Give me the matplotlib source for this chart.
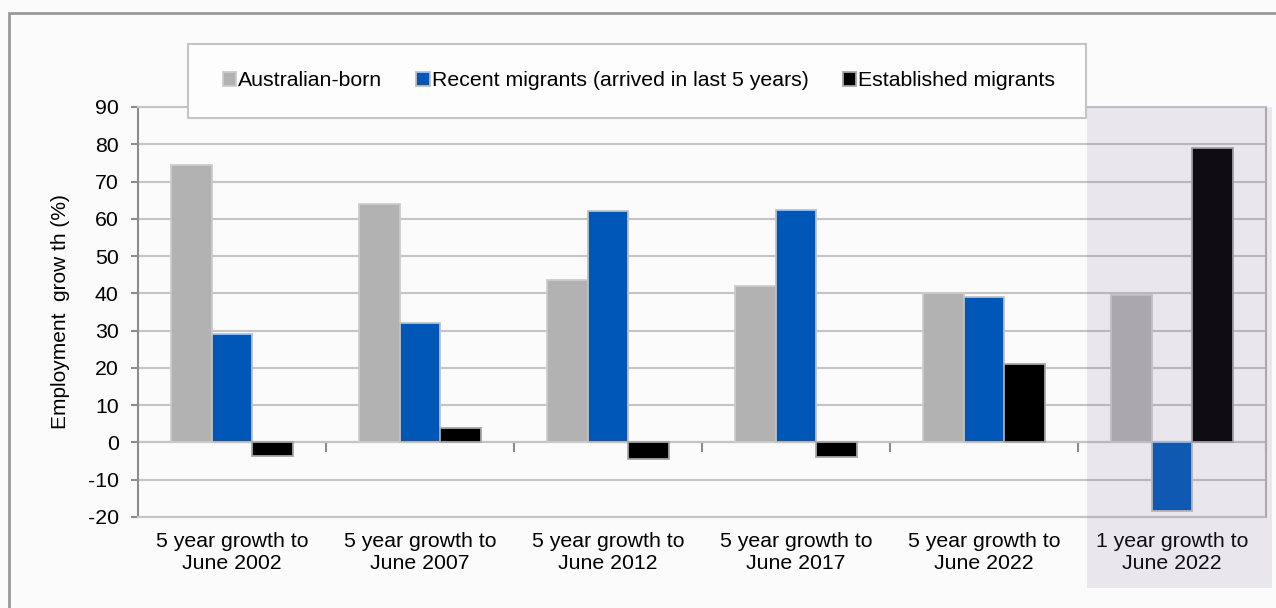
import matplotlib
matplotlib.use("Agg")
import matplotlib.pyplot as plt
from matplotlib.patches import Rectangle
import numpy as np

categories = ["5 year growth to\nJune 2002", "5 year growth to\nJune 2007",
              "5 year growth to\nJune 2012", "5 year growth to\nJune 2017",
              "5 year growth to\nJune 2022", "1 year growth to\nJune 2022"]
series_names = ["Australian-born", "Recent migrants (arrived in last 5 years)",
                "Established migrants"]
australian_born = [74.5, 64, 43.5, 42, 40, 39.5]
recent_migrants = [29, 32, 62, 62.5, 39, -18.5]
established_migrants = [-3.5, 4, -4.5, -4, 21, 79]
y_ticks = list(range(-20, 91, 10))
y_label = "Employment  grow th (%)"

plt.rcParams['font.family'] = ['Liberation Sans', 'DejaVu Sans']
plt.rcParams['axes.unicode_minus'] = False

W, H = 1276, 608
fig = plt.figure(figsize=(W / 100, H / 100), dpi=100, facecolor='#fbfbfb')
ax = fig.add_axes([138 / W, 1 - 517 / H, (1266 - 138) / W, (517 - 107) / H])
ax.set_facecolor('#fbfbfb')

x = np.arange(len(categories))
bw = 0.218
colors = ['#b2b2b2', '#0057b8', '#000000']
edges = ['#cccccc', '#c0c0c0', '#a6a6a6']
data = [australian_born, recent_migrants, established_migrants]
for i, (vals, c, e, name) in enumerate(zip(data, colors, edges, series_names)):
    ax.bar(x + (i - 1) * bw, vals, width=bw, color=c, edgecolor=e,
           linewidth=1.3, label=name, zorder=2)

ymin, ymax = -20, 90
ax.set_ylim(ymin, ymax)
ax.set_xlim(-0.5, len(categories) - 0.5)
ax.set_yticks(y_ticks)
ax.set_yticklabels([str(v) for v in y_ticks])
ax.set_xticks(x)
ax.set_xticklabels(categories, fontsize=15.3)
ax.tick_params(axis='x', length=0, pad=11)
ax.tick_params(axis='y', length=5, width=1.5, color='#8c8c8c', pad=9, labelsize=15.3)
ax.yaxis.grid(True, color='#c4c4c4', linewidth=1.5)
ax.set_axisbelow(True)

for s in ['top', 'bottom']:
    ax.spines[s].set_color('#c4c4c4')
    ax.spines[s].set_linewidth(1.5)
ax.spines['right'].set_color('#b4b4b4')
ax.spines['right'].set_linewidth(1.5)
ax.spines['left'].set_color('#8c8c8c')
ax.spines['left'].set_linewidth(1.5)

ax.set_ylabel(y_label, fontsize=15)
ax.yaxis.set_label_coords((70 - 138) / (1266 - 138), 0.5)

# zero axis with group boundary ticks
sec = ax.secondary_xaxis((0 - ymin) / (ymax - ymin))
sec.set_xticks(x + 0.5)
sec.set_xticklabels([])
sec.tick_params(axis='x', direction='out', length=7, width=1.5, color='#8c8c8c')
sec.spines['bottom'].set_color('#8c8c8c')
sec.spines['bottom'].set_linewidth(1.5)

# outer frame
fig.add_artist(Rectangle((9 / W, -0.1), 1.2, 1 - 13 / H + 0.1, transform=fig.transFigure,
                         fill=False, edgecolor='#9a9a9a', linewidth=2, zorder=1))

# shaded highlight
fig.add_artist(Rectangle((1087 / W, 1 - 588 / H), (1272 - 1087) / W, (588 - 107) / H,
                         transform=fig.transFigure, facecolor='#766894', alpha=0.135,
                         edgecolor='none', zorder=3))

# legend box
fig.add_artist(Rectangle((188 / W, 1 - 118 / H), (1086 - 188) / W, 74 / H,
                         transform=fig.transFigure, facecolor='#fdfdfd',
                         edgecolor='#c4c4c4', linewidth=1.5, zorder=4))
handles, labels = ax.get_legend_handles_labels()
leg = fig.legend(handles, labels, loc='center', bbox_to_anchor=(639 / W, 1 - 81 / H),
                 ncol=3, frameon=False, fontsize=15.3, handlelength=0.63,
                 handleheight=0.63, handletextpad=0.1, columnspacing=1.6)
leg.set_zorder(5)

fig.savefig("out.png", dpi=100, facecolor=fig.get_facecolor())
